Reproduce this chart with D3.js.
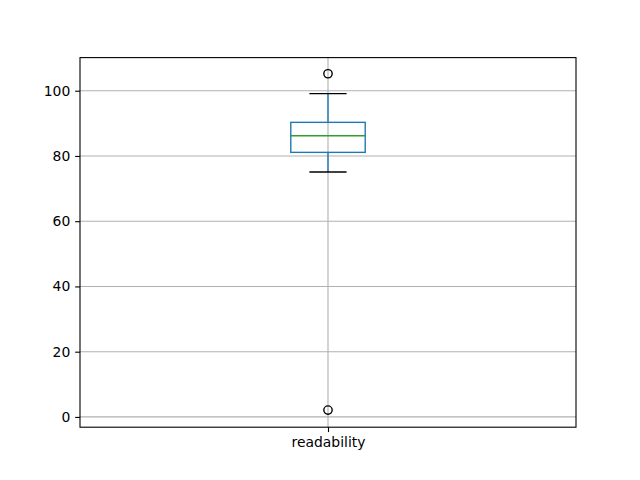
<!DOCTYPE html>
<html><head><meta charset="utf-8">
<script src="https://cdn.jsdelivr.net/npm/d3@7"></script>
<style>body{margin:0;background:#fff}svg{display:block}text{font-family:"DejaVu Sans",sans-serif;font-size:13.9px;fill:#000}</style>
</head><body>
<svg id="c" width="640" height="480"></svg>
<script>
const categories = ["readability"];
const q1 = [81.1];
const median = [86.2];
const q3 = [90.3];
const whiskerLow = [75.1];
const whiskerHigh = [99.1];
const outliers = [[105.2, 2.1]];
const yTicks = [0, 20, 40, 60, 80, 100];

const svg = d3.select("#c");
const L = 80, R = 576, T = 57.6, B = 427.2;
const x = d3.scaleLinear().domain([0.5, 1.5]).range([L, R]);
const y = d3.scaleLinear().domain([-3.15, 110.15]).range([B, T]);
const lw = 1.39;

// grid
const g = svg.append("g");
yTicks.forEach(t => g.append("line").attr("x1", L).attr("x2", R).attr("y1", y(t)).attr("y2", y(t)).attr("stroke", "#b0b0b0").attr("stroke-width", 1.1));
categories.forEach((c, i) => g.append("line").attr("x1", x(i + 1)).attr("x2", x(i + 1)).attr("y1", T).attr("y2", B).attr("stroke", "#b0b0b0").attr("stroke-width", 1.1));

// boxes
const w = 0.15;
categories.forEach((c, i) => {
  const cx = i + 1;
  const bg = svg.append("g");
  bg.append("line").attr("x1", x(cx)).attr("x2", x(cx)).attr("y1", y(q1[i])).attr("y2", y(whiskerLow[i])).attr("stroke", "#1f77b4").attr("stroke-width", lw);
  bg.append("line").attr("x1", x(cx)).attr("x2", x(cx)).attr("y1", y(q3[i])).attr("y2", y(whiskerHigh[i])).attr("stroke", "#1f77b4").attr("stroke-width", lw);
  [whiskerLow[i], whiskerHigh[i]].forEach(v => bg.append("line").attr("x1", x(cx - w / 4)).attr("x2", x(cx + w / 4)).attr("y1", y(v)).attr("y2", y(v)).attr("stroke", "#000").attr("stroke-width", lw));
  bg.append("rect").attr("x", x(cx - w / 2)).attr("width", x(cx + w / 2) - x(cx - w / 2)).attr("y", y(q3[i])).attr("height", y(q1[i]) - y(q3[i])).attr("fill", "none").attr("stroke", "#1f77b4").attr("stroke-width", lw);
  bg.append("line").attr("x1", x(cx - w / 2)).attr("x2", x(cx + w / 2)).attr("y1", y(median[i])).attr("y2", y(median[i])).attr("stroke", "#2ca02c").attr("stroke-width", lw);
  outliers[i].forEach(v => bg.append("circle").attr("cx", x(cx)).attr("cy", y(v)).attr("r", 4.17).attr("fill", "none").attr("stroke", "#000").attr("stroke-width", lw));
});

// axes
const yAxis = d3.axisLeft(y).tickValues(yTicks).tickSize(4.86).tickPadding(4.86).tickFormat(d3.format("d"));
const ya = svg.append("g").attr("transform", `translate(${L},0)`).call(yAxis);
const xAxis = d3.axisBottom(x).tickValues(categories.map((c, i) => i + 1)).tickSize(4.86).tickPadding(4.86).tickFormat((d, i) => categories[i]);
const xa = svg.append("g").attr("transform", `translate(0,${B})`).call(xAxis);
[ya, xa].forEach(a => {
  a.select(".domain").remove();
  a.selectAll(".tick line").attr("stroke", "#000").attr("stroke-width", 1.1);
  a.selectAll(".tick text").attr("font-family", "DejaVu Sans").attr("font-size", 13.9).attr("fill", "#000");
});
svg.append("rect").attr("x", L).attr("y", T).attr("width", R - L).attr("height", B - T).attr("fill", "none").attr("stroke", "#000").attr("stroke-width", 1.1);
</script>
</body></html>
